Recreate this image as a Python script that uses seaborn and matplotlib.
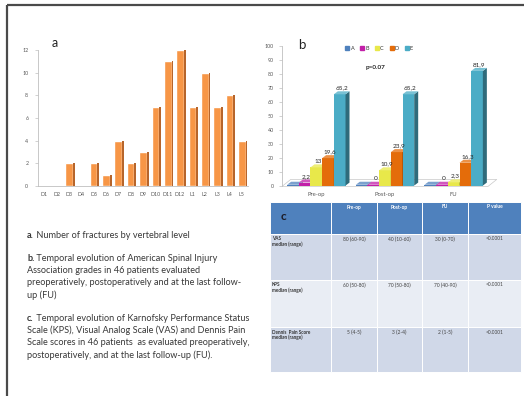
import numpy as np
import pandas as pd
import matplotlib
matplotlib.use('Agg')
import matplotlib.pyplot as plt
from matplotlib.patches import Polygon, Rectangle
from matplotlib.lines import Line2D
import matplotlib.colors as mcolors
import seaborn as sns

sns.set_theme(style='white')
plt.rcParams['font.family'] = ['Lato', 'DejaVu Sans']

# ---- panel a : fractures by vertebral level
levels = ['D1', 'D2', 'D3', 'D4', 'D5', 'D6', 'D7', 'D8', 'D9', 'D10', 'D11',
          'D12', 'L1', 'L2', 'L3', 'L4', 'L5']
fractures = [0, 0, 2, 0, 2, 1, 4, 2, 3, 7, 11, 12, 7, 10, 7, 8, 4]

# ---- panel b : ASIA grades (%)
times = ['Pre-op', 'Post-op', 'FU']
grades = ['A', 'B', 'C', 'D', 'E']
grade_A = [0, 0, 0]
grade_B = [2.2, 0, 0]
grade_C = [13, 10.9, 2.3]
grade_D = [19.6, 23.9, 16.3]
grade_E = [65.2, 65.2, 81.9]
grade_colors = ['#4F81BD', '#C21FA8', '#E8E84A', '#E46C0A', '#4BACC6']

# ---- panel c : table
table_cols = ['Pre-op', 'Post-op', 'FU', 'P value']
table_rows = ['VAS\nmedian (range)', 'KPS\nmedian (range)',
              'Dennis  Pain Score\nmedian (range)']
vas_vals = ['80 (60-90)', '40 (10-60)', '30 (0-70)', '<0.0001']
kps_vals = ['60 (50-80)', '70 (50-80)', '70 (40-90)', '<0.0001']
dennis_vals = ['5 (4-5)', '3 (2-4)', '2 (1-5)', '<0.0001']

# ---- captions
cap_a = ('a.', ' Number of fractures by vertebral level')
cap_b = ('b.', ' Temporal evolution of American Spinal Injury',
         ['Association grades in 46 patients evaluated',
          'preoperatively, postoperatively and at the last follow-',
          'up (FU)'])
cap_c = ('c.', ' Temporal evolution of Karnofsky Performance Status',
         ['Scale (KPS), Visual Analog Scale (VAS) and Dennis Pain',
          'Scale scores in 46 patients  as evaluated preoperatively,',
          'postoperatively, and at the last follow-up (FU).'])

W, H = 524, 396
def fx(px): return px / W
def fy(py): return 1 - py / H

fig = plt.figure(figsize=(W / 100, H / 100), dpi=100, facecolor='white')

# overlay in pixel coordinates for frame, captions and table
ov = fig.add_axes([0, 0, 1, 1])
ov.set_xlim(0, W)
ov.set_ylim(H, 0)
ov.axis('off')
ov.plot([7, 7], [H, 4.5], color='#4a4a4a', lw=1.6, solid_capstyle='butt')
ov.plot([7, W], [4.5, 4.5], color='#4a4a4a', lw=1.6, solid_capstyle='butt')

tick_col = '#595959'
spine_col = '#BFBFBF'

# ================= panel a
axa = fig.add_axes([fx(38), fy(186), fx(248) - fx(38), (186 - 50) / H])
axa.patch.set_alpha(0)
sns.barplot(x=levels, y=fractures, color='#F79646', saturation=1, width=0.62, ax=axa)
ppx = 210 / 17  # px per category
for p in list(axa.patches):
    axa.add_patch(Rectangle((p.get_x() + p.get_width(), 0), 1.8 / ppx, p.get_height(),
                            color='#B7652B', lw=0))
axa.set_xlim(-0.5, 16.5)
axa.set_ylim(0, 12)
axa.set_yticks(range(0, 13, 2))
axa.set_xlabel('')
axa.set_ylabel('')
sns.despine(ax=axa)
for s in ['left', 'bottom']:
    axa.spines[s].set_color(spine_col)
    axa.spines[s].set_linewidth(0.6)
axa.set_xticks(np.arange(-0.5, 17, 1), minor=True)
axa.tick_params(axis='x', which='major', length=0, labelsize=3.8, colors=tick_col, pad=4)
axa.tick_params(axis='x', which='minor', length=2, width=0.5, color=spine_col)
axa.tick_params(axis='y', length=2, width=0.5, color=spine_col, labelsize=3.8,
                labelcolor=tick_col, pad=5, left=True)
ov.text(55, 43, 'a', fontsize=9, color='#222222', ha='center', va='center')

# ================= panel b
rows = []
for g, vals in zip(grades, [grade_A, grade_B, grade_C, grade_D, grade_E]):
    for t, v in zip(times, vals):
        rows.append((t, g, v))
df = pd.DataFrame(rows, columns=['time', 'grade', 'pct'])

axb = fig.add_axes([fx(282), fy(186), fx(488) - fx(282), (186 - 46) / H])
axb.patch.set_alpha(0)
sns.barplot(data=df, x='time', y='pct', hue='grade', order=times, hue_order=grades,
            palette=grade_colors, saturation=1, width=0.85, ax=axb, legend=False)
axb.set_xlim(-0.5, 2.5)
axb.set_ylim(0, 100)
dx = 4 / (206 / 3)
dy = 3 / (140 / 100)

# floor
axb.add_patch(Polygon([(-0.5, -0.3), (2.5, -0.3), (2.5 + 2.2 * dx, 2.2 * dy), (-0.5 + 2.2 * dx, 2.2 * dy)],
                      closed=True, facecolor='white', edgecolor='#C8C8C8', lw=0.5,
                      clip_on=False, zorder=1))

bars = list(axb.patches)[:15]
for gi, g in enumerate(grades):
    base = np.array(mcolors.to_rgb(grade_colors[gi]))
    side = base * 0.62
    top = base + (1 - base) * 0.25
    for ti in range(3):
        p = bars[gi * 3 + ti]
        x0, w, h = p.get_x(), p.get_width(), p.get_height()
        h = max(h, 0.6)
        z = 3 + ti * 0.1 + gi * 0.01
        p.set_height(h)
        p.set_y(0.3)
        p.set_zorder(z)
        p.set_linewidth(0)
        axb.add_patch(Polygon([(x0 + w, 0.3), (x0 + w + dx, 0.3 + dy), (x0 + w + dx, h + 0.3 + dy), (x0 + w, h + 0.3)],
                              closed=True, facecolor=side, lw=0, zorder=z, clip_on=False))
        axb.add_patch(Polygon([(x0, h + 0.3), (x0 + dx, h + 0.3 + dy), (x0 + w + dx, h + 0.3 + dy), (x0 + w, h + 0.3)],
                              closed=True, facecolor=top, lw=0, zorder=z, clip_on=False))
        if gi >= 1:
            v = df.loc[(df.grade == g) & (df.time == times[ti]), 'pct'].iloc[0]
            lab = str(int(v)) if float(v).is_integer() else f'{v:.1f}'.replace('.', ',')
            axb.text(x0 + w / 2 + dx / 2, h + dy + 0.8, lab, ha='center', va='bottom',
                     fontsize=4.6, color='#262626', zorder=10)

axb.set_yticks(range(0, 101, 10))
axb.set_xlabel('')
axb.set_ylabel('')
sns.despine(ax=axb, bottom=True)
axb.spines['left'].set_color(spine_col)
axb.spines['left'].set_linewidth(0.6)
axb.tick_params(axis='x', length=0, labelsize=4.2, colors=tick_col, pad=4)
axb.tick_params(axis='y', length=2, width=0.5, color=spine_col, labelsize=3.8,
                labelcolor=tick_col, pad=4, left=True)
ov.text(302, 45, 'b', fontsize=9.5, color='#222222', ha='center', va='center')
ov.text(376, 68, 'p=0.07', fontsize=4.6, fontweight='bold', color='#262626',
        ha='center', va='center')
handles = [Line2D([], [], marker='s', ls='', color=c, markersize=2.8) for c in grade_colors]
fig.legend(handles, grades, loc='center', bbox_to_anchor=(fx(379), fy(48)), ncol=5,
           fontsize=4, frameon=False, handletextpad=0.1, columnspacing=1.0,
           handlelength=0.9, labelcolor='#333333')

# ================= panel c (table)
xs = [270, 331, 377, 422, 468, 521]
ys = [202, 234, 280, 327, 372]
row_fill = ['#D0D8E8', '#E9EDF4', '#D0D8E8']
for ci in range(5):
    ov.add_patch(Rectangle((xs[ci], ys[0]), xs[ci + 1] - xs[ci], ys[1] - ys[0],
                           facecolor='#4F81BD', edgecolor='white', lw=0.7))
    for ri in range(3):
        ov.add_patch(Rectangle((xs[ci], ys[ri + 1]), xs[ci + 1] - xs[ci], ys[ri + 2] - ys[ri + 1],
                               facecolor=row_fill[ri], edgecolor='white', lw=0.7))
ov.text(283, 216, 'c', fontsize=8.5, fontweight='bold', color='#1c1c28', ha='center', va='center')
for ci, lab in enumerate(table_cols):
    ov.text((xs[ci + 1] + xs[ci + 2]) / 2, 207, lab, fontsize=3.5, fontweight='bold',
            color='white', ha='center', va='center')
for ri, (lab, vals) in enumerate(zip(table_rows, [vas_vals, kps_vals, dennis_vals])):
    ov.text(272, ys[ri + 1] + 2.5, lab, fontsize=3.3, fontweight='bold', color='#333333',
            ha='left', va='top', linespacing=1.1)
    for ci, v in enumerate(vals):
        ov.text((xs[ci + 1] + xs[ci + 2]) / 2, ys[ri + 1] + 2.5, v, fontsize=3.5,
                color='#444444', ha='center', va='top')

# ================= captions
cap_col = '#383838'
fs = 6.6
def caption(y, bold, rest):
    t = ov.text(27, y, bold, fontsize=fs, fontweight='bold', color=cap_col, ha='left', va='baseline')
    ov.annotate(rest, xy=(1, 0), xycoords=t, fontsize=fs, color=cap_col, ha='left', va='bottom')

caption(238, cap_a[0], cap_a[1])
caption(261, cap_b[0], cap_b[1])
for i, line in enumerate(cap_b[2]):
    ov.text(27, 261 + 12.2 * (i + 1), line, fontsize=fs, color=cap_col, ha='left', va='baseline')
caption(321, cap_c[0], cap_c[1])
for i, line in enumerate(cap_c[2]):
    ov.text(27, 321 + 12.2 * (i + 1), line, fontsize=fs, color=cap_col, ha='left', va='baseline')

fig.savefig('out.png', dpi=100, facecolor='white')
